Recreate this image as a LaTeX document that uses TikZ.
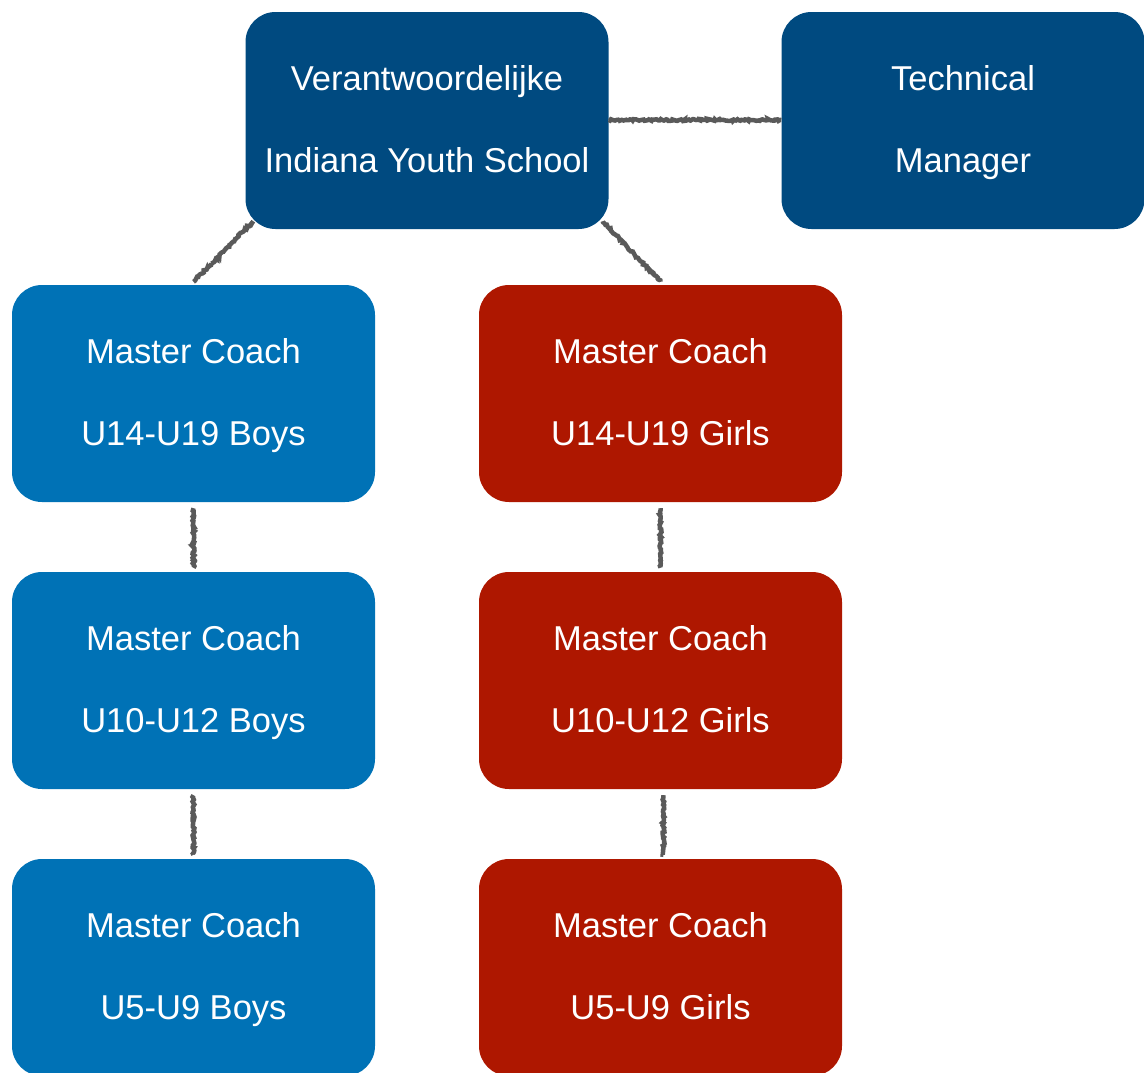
\documentclass[tikz,border=0pt]{standalone}
\usepackage{fontspec}
\setmainfont{Liberation Sans}
\usetikzlibrary{decorations.pathmorphing}
\definecolor{topblue}{HTML}{004A80}
\definecolor{boyblue}{HTML}{0072B6}
\definecolor{girlred}{HTML}{AE1700}
\definecolor{linkgray}{HTML}{5A5A5A}
\newcommand\tophi{\rule{0pt}{28.7pt}}
\newcommand\botlo{\rule[-7.5pt]{0pt}{7.5pt}}
\tikzset{
  box/.style={rectangle, rounded corners=30pt, minimum width=363pt, minimum height=217pt,
    inner sep=0pt, text=white, align=center, font=\fontsize{34.5}{82}\selectfont},
  topbox/.style={box, fill=topblue},
  boybox/.style={box, fill=boyblue},
  girlbox/.style={box, fill=girlred},
  link/.style={draw=linkgray, line width=4.5pt, decorate,
    decoration={random steps, segment length=1.5pt, amplitude=1pt}}
}
\begin{document}
\begin{tikzpicture}[x=1pt,y=-1pt]
\useasboundingbox (0,0) rectangle (1144,1072);
\clip (0,0) rectangle (1144,1072);
\node[topbox] (vis) at (427,120.5) {\tophi Verantwoordelijke\\Indiana Youth School\botlo};
\node[topbox] (tm) at (963,120.5) {\tophi Technical\\Manager\botlo};
\node[boybox] (b1) at (193.5,393.5) {\tophi Master Coach\\U14-U19 Boys\botlo};
\node[boybox] (b2) at (193.5,680.5) {\tophi Master Coach\\U10-U12 Boys\botlo};
\node[boybox] (b3) at (193.5,967.5) {\tophi Master Coach\\U5-U9 Boys\botlo};
\node[girlbox] (g1) at (660.5,393.5) {\tophi Master Coach\\U14-U19 Girls\botlo};
\node[girlbox] (g2) at (660.5,680.5) {\tophi Master Coach\\U10-U12 Girls\botlo};
\node[girlbox] (g3) at (660.5,967.5) {\tophi Master Coach\\U5-U9 Girls\botlo};
\coordinate (vsw) at ([shift={(8,-8)}]vis.south west);
\coordinate (vse) at ([shift={(-6,-8)}]vis.south east);
\path[link] (vis.east |- 0,120) -- (tm.west |- 0,120);
\path[link] (vsw) -- ([yshift=3]b1.north);
\path[link] (vse) -- ([yshift=3]g1.north);
\path[link] ([yshift=-6]b1.south) -- ([yshift=4]b2.north);
\path[link] ([yshift=-6]b2.south) -- ([yshift=4]b3.north);
\path[link] ([yshift=-6]g1.south) -- ([yshift=4]g2.north);
\path[link] ([xshift=3,yshift=-6]g2.south) -- ([xshift=3,yshift=4]g3.north);
\end{tikzpicture}
\end{document}
